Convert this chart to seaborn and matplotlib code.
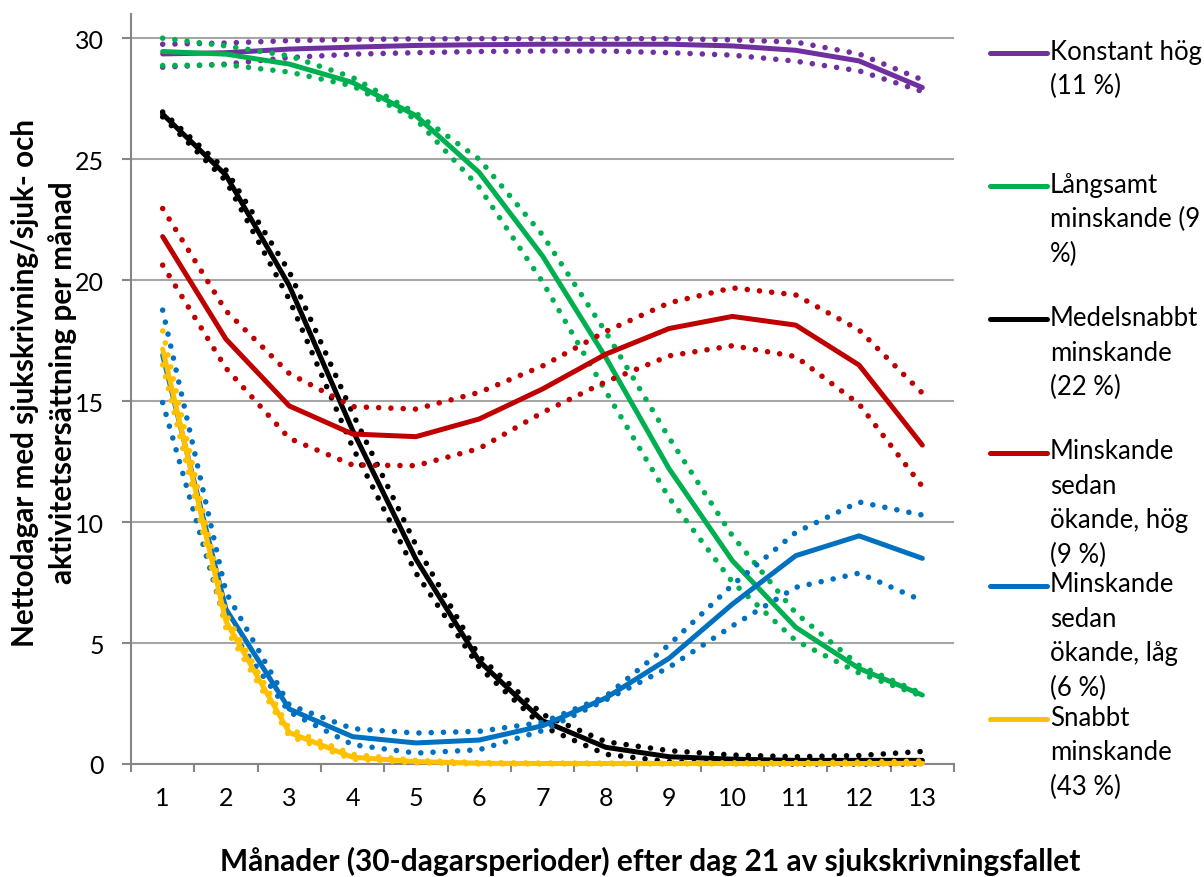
import numpy as np
import pandas as pd
import matplotlib
matplotlib.use("Agg")
import matplotlib.pyplot as plt
import seaborn as sns
from matplotlib.legend_handler import HandlerLine2D
from matplotlib.font_manager import FontProperties

# ---------------- data ----------------
months = list(range(1, 14))
month_labels = [str(m) for m in months]
y_ticks = [0, 5, 10, 15, 20, 25, 30]

konstant_mean = [29.35, 29.4, 29.55, 29.63, 29.7, 29.73, 29.75, 29.75, 29.75, 29.68, 29.5, 29.06, 27.96]
konstant_upper = [29.75, 29.8, 29.9, 29.95, 29.97, 29.98, 29.98, 29.98, 29.98, 29.93, 29.84, 29.35, 28.28]
konstant_lower = [28.8, 28.93, 29.2, 29.34, 29.4, 29.45, 29.47, 29.47, 29.4, 29.3, 29.05, 28.65, 27.8]

langsamt_mean = [29.45, 29.34, 28.93, 28.17, 26.8, 24.45, 21.0, 16.8, 12.2, 8.4, 5.65, 3.95, 2.85]
langsamt_upper = [30.0, 29.68, 29.27, 28.38, 26.9, 25.0, 21.87, 17.85, 13.48, 9.43, 6.24, 4.08, 2.9]
langsamt_lower = [28.87, 28.9, 28.6, 28.03, 26.65, 23.84, 19.93, 15.4, 11.0, 7.52, 5.1, 3.76, 2.8]

medel_mean = [26.86, 24.34, 19.77, 13.8, 8.47, 4.25, 1.79, 0.69, 0.3, 0.2, 0.15, 0.15, 0.15]
medel_upper = [26.95, 24.55, 20.35, 14.5, 9.05, 4.45, 2.05, 0.92, 0.55, 0.37, 0.3, 0.35, 0.52]
medel_lower = [26.75, 24.1, 19.2, 13.1, 7.9, 4.0, 1.55, 0.4, 0.1, 0.03, 0.0, 0.0, 0.0]

hog_mean = [21.8, 17.56, 14.8, 13.64, 13.53, 14.26, 15.5, 16.94, 18.0, 18.5, 18.14, 16.49, 13.18]
hog_upper = [22.96, 18.73, 16.14, 14.77, 14.67, 15.36, 16.45, 17.88, 19.06, 19.68, 19.39, 17.94, 15.33]
hog_lower = [20.62, 16.36, 13.46, 12.36, 12.33, 13.04, 14.53, 15.8, 16.87, 17.29, 16.84, 14.88, 11.47]

lag_mean = [16.9, 6.4, 2.27, 1.13, 0.87, 0.99, 1.58, 2.73, 4.37, 6.61, 8.61, 9.43, 8.5]
lag_upper = [18.76, 7.1, 2.44, 1.46, 1.28, 1.35, 1.72, 2.8, 4.93, 7.4, 9.57, 10.83, 10.29]
lag_lower = [14.94, 5.75, 2.15, 0.8, 0.45, 0.59, 1.38, 2.65, 4.0, 5.71, 7.3, 7.89, 6.75]

snabbt_mean = [17.15, 5.9, 1.3, 0.28, 0.1, 0.03, 0.02, 0.02, 0.02, 0.02, 0.02, 0.02, 0.03]
snabbt_upper = [17.9, 6.2, 1.45, 0.4, 0.15, 0.06, 0.04, 0.04, 0.04, 0.05, 0.06, 0.08, 0.12]
snabbt_lower = [16.5, 5.6, 1.15, 0.2, 0.05, 0.0, 0.0, 0.0, 0.0, 0.0, 0.0, 0.0, 0.0]

group_labels = [
    "Konstant hög\n(11 %)",
    "Långsamt\nminskande (9\n%)",
    "Medelsnabbt\nminskande\n(22 %)",
    "Minskande\nsedan\nökande, hög\n(9 %)",
    "Minskande\nsedan\nökande, låg\n(6 %)",
    "Snabbt\nminskande\n(43 %)",
]
group_colors = ["#7030A0", "#00B050", "#000000", "#C00000", "#0070C0", "#FFC000"]

x_title = "Månader (30-dagarsperioder) efter dag 21 av sjukskrivningsfallet"
y_title = "Nettodagar med sjukskrivning/sjuk- och\naktivitetsersättning per månad"

series = [
    (konstant_mean, konstant_upper, konstant_lower),
    (langsamt_mean, langsamt_upper, langsamt_lower),
    (medel_mean, medel_upper, medel_lower),
    (hog_mean, hog_upper, hog_lower),
    (lag_mean, lag_upper, lag_lower),
    (snabbt_mean, snabbt_upper, snabbt_lower),
]

# ---------------- style ----------------
sns.set_theme(style="white")
FAMILY = ['Lato', 'DejaVu Sans']
plt.rcParams['font.family'] = FAMILY
plt.rcParams['text.color'] = 'black'
plt.rcParams['axes.labelcolor'] = 'black'
plt.rcParams['xtick.color'] = 'black'
plt.rcParams['ytick.color'] = 'black'

W, H = 1204, 878
DPI = 100
fig = plt.figure(figsize=(W / DPI, H / DPI), dpi=DPI)
ax = fig.add_axes([131 / W, 1 - 765 / H, (954 - 131) / W, (765 - 15) / H])
renderer = fig.canvas.get_renderer()

LW = 3.6
DOT_LW = 4.0
dotted = (0, (0.01, 2.2))
main_handles = []
for (mean, up, lo), color in zip(series, group_colors):
    df = pd.DataFrame({"month": months, "mean": mean, "upper": up, "lower": lo})
    sns.lineplot(data=df, x="month", y="mean", color=color, linewidth=LW,
                 solid_capstyle="round", solid_joinstyle="round",
                 clip_on=False, ax=ax, legend=False, zorder=3)
    main_handles.append(ax.lines[-1])
    for col in ("upper", "lower"):
        sns.lineplot(data=df, x="month", y=col, color=color, linewidth=DOT_LW,
                     linestyle=dotted, dash_capstyle="round",
                     clip_on=False, ax=ax, legend=False, zorder=3)

# ---------------- axes ----------------
TICK_FS = 18
spine_gray = "#868686"
ax.set_ylim(0, 31.0)
ax.set_yticks(y_ticks)
ax.set_yticklabels([str(v) for v in y_ticks], fontsize=TICK_FS)
ax.set_xlim(0.5, 13.5)
ax.set_xticks(np.arange(0.5, 13.6, 1.0))
ax.set_xticklabels([])
ax.set_xticks(months, minor=True)
ax.set_xticklabels(month_labels, minor=True, fontsize=TICK_FS)
ax.tick_params(axis="x", which="major", bottom=True, length=6, width=1.5,
               color=spine_gray, direction="out")
ax.tick_params(axis="x", which="minor", bottom=True, length=0, pad=16)
ax.tick_params(axis="y", which="major", left=True, length=6.5, width=1.5,
               color=spine_gray, direction="out", pad=13)
ax.grid(False)
ax.yaxis.grid(True, color="#A6A6A6", linewidth=1.5)
ax.set_axisbelow(True)
for s in ("top", "right"):
    ax.spines[s].set_visible(False)
for s in ("left", "bottom"):
    ax.spines[s].set_color(spine_gray)
    ax.spines[s].set_linewidth(1.5)

TITLE_FS = 21.5
ax.set_xlabel(x_title, fontsize=TITLE_FS, fontweight="bold", va="top")
ax.xaxis.set_label_coords((650 - 131) / 823, (765 - 847) / 750)

YT_FS = 21.3
fpb = FontProperties(family=FAMILY, size=YT_FS, weight="bold")
_, bh, bd = renderer.get_text_width_height_descent("lp", fpb, ismath=False)
y_ls = (37 - bd) / (bh - bd)
ax.set_ylabel(y_title, fontsize=YT_FS, fontweight="bold", linespacing=y_ls)
ax.yaxis.set_label_coords((77 - 131) / 823, (765 - 383) / 750)

# ---------------- legend ----------------
LEG_FS = 18.5
fs_px = LEG_FS * DPI / 72
fp = FontProperties(family=FAMILY, size=LEG_FS)
_, lp_h, lp_d = renderer.get_text_width_height_descent("lp", fp, ismath=False)
asc = lp_h - lp_d
pitch_px = 34.5
ls = (pitch_px - lp_d) / asc
n_lines = 4
block_h = asc + (n_lines - 1) * pitch_px + lp_d
first_mid = asc - 0.26 * fs_px
shift_pt = (block_h / 2 - first_mid) * 72 / DPI


class TopLineHandler(HandlerLine2D):
    def create_artists(self, legend, orig_handle, xdescent, ydescent,
                       width, height, fontsize, trans):
        arts = super().create_artists(legend, orig_handle, xdescent, ydescent,
                                      width, height, fontsize, trans)
        for a in arts:
            a.set_ydata(np.asarray(a.get_ydata(), dtype=float) + shift_pt)
            a.set_solid_capstyle("round")
        return arts


padded = [lbl + "\n" * (n_lines - 1 - lbl.count("\n")) for lbl in group_labels]
step_px = 133
sep_px = step_px - block_h
top_px = 53 - first_mid
leg = fig.legend(main_handles, padded, loc="upper left",
                 bbox_to_anchor=(990 / W, 1 - top_px / H),
                 frameon=False, fontsize=LEG_FS, borderpad=0, borderaxespad=0,
                 handlelength=57 / fs_px, handletextpad=3 / fs_px,
                 labelspacing=sep_px / fs_px,
                 handler_map={h: TopLineHandler() for h in main_handles})
for t in leg.get_texts():
    t.set_linespacing(ls)

fig.savefig("out.png", dpi=DPI)
